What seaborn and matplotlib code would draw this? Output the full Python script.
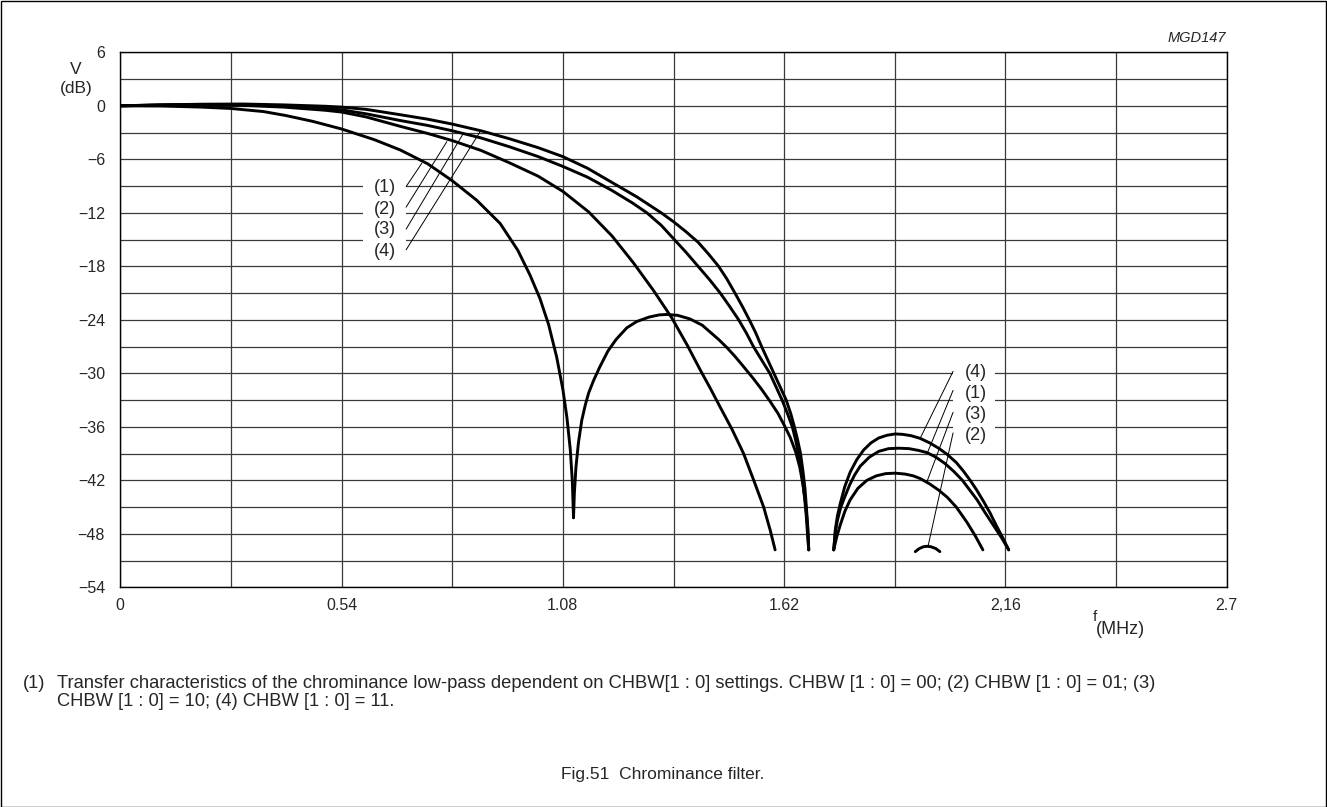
import matplotlib
matplotlib.use("Agg")
import matplotlib.pyplot as plt
from matplotlib.patches import Rectangle
import seaborn as sns

# ---------------- data (f in MHz, V in dB) ----------------
# curve (4): CHBW = 11
f4_pass = [0, 0.1, 0.2, 0.3, 0.4, 0.5, 0.54, 0.6, 0.683, 0.75, 0.81, 0.88, 0.95, 1.02,
           1.08, 1.14, 1.2, 1.26, 1.32, 1.35, 1.38, 1.41, 1.435, 1.46, 1.48, 1.5, 1.518,
           1.535, 1.55, 1.565, 1.58, 1.595, 1.61, 1.625, 1.636, 1.645, 1.653, 1.66,
           1.666, 1.671, 1.675, 1.678, 1.68]
v4_pass = [0, 0.1, 0.18, 0.2, 0.1, -0.05, -0.15, -0.4, -1.0, -1.5, -2.05, -2.8, -3.7, -4.7,
           -5.7, -7.0, -8.6, -10.2, -12.0, -13.0, -14.1, -15.3, -16.6, -18.0, -19.4, -21.0, -22.5,
           -24.0, -25.4, -27.0, -28.5, -30.0, -31.5, -33.0, -34.5, -36.0, -37.5, -39.0,
           -41.0, -43.0, -45.5, -47.5, -49.8]
f4_stop = [1.741, 1.745, 1.75, 1.757, 1.768, 1.781, 1.797, 1.814, 1.832, 1.851, 1.871,
           1.891, 1.91, 1.93, 1.952, 1.975, 1.997, 2.018, 2.04, 2.058, 2.074, 2.09, 2.107,
           2.123, 2.138, 2.153, 2.168]
v4_stop = [-49.8, -47.5, -46.0, -44.6, -42.7, -41.1, -39.7, -38.6, -37.8, -37.25, -36.95,
           -36.8, -36.85, -37.0, -37.3, -37.8, -38.4, -39.1, -40.0, -41.0, -42.0, -43.1, -44.4,
           -45.7, -47.1, -48.4, -49.8]

# curve (3): CHBW = 10
f3_pass = [0, 0.1, 0.2, 0.3, 0.4, 0.5, 0.54, 0.6, 0.683, 0.75, 0.81, 0.88, 0.95, 1.02,
           1.08, 1.14, 1.2, 1.25, 1.285, 1.32, 1.35, 1.38, 1.41, 1.438, 1.464, 1.487, 1.509,
           1.528, 1.545, 1.565, 1.585, 1.6, 1.615, 1.628, 1.64, 1.648, 1.655, 1.661, 1.665,
           1.67, 1.674, 1.677, 1.68]
v3_pass = [0, 0.1, 0.15, 0.12, 0.0, -0.3, -0.45, -0.9, -1.65, -2.2, -2.8, -3.6, -4.6, -5.7,
           -6.8, -8.0, -9.5, -10.9, -12.0, -13.4, -14.9, -16.4, -18.0, -19.5, -21.0, -22.5, -24.0,
           -25.5, -27.0, -28.5, -30.0, -31.5, -33.0, -34.5, -36.0, -37.5, -39.0, -40.5, -42.0,
           -44.0, -46.0, -48.0, -49.8]
f3_stop = [1.741, 1.748, 1.757, 1.768, 1.781, 1.8, 1.822, 1.845, 1.868, 1.891, 1.915,
           1.935, 1.952, 1.975, 1.997, 2.018, 2.04, 2.066, 2.086, 2.105]
v3_stop = [-49.8, -48.4, -47.0, -45.5, -44.2, -42.9, -42.0, -41.5, -41.25, -41.2, -41.3,
           -41.5, -41.8, -42.4, -43.1, -43.9, -45.0, -46.7, -48.2, -49.8]

# curve (2): CHBW = 01
f2_pass = [0, 0.1, 0.2, 0.3, 0.4, 0.5, 0.54, 0.6, 0.683, 0.75, 0.81, 0.88, 0.95, 1.02,
           1.08, 1.143, 1.2, 1.252, 1.301, 1.346, 1.383, 1.415, 1.44, 1.464, 1.493, 1.521,
           1.545, 1.57, 1.586, 1.598]
v2_pass = [0, 0.08, 0.1, 0.05, -0.15, -0.5, -0.7, -1.25, -2.3, -3.1, -3.9, -5.0, -6.4, -7.9,
           -9.6, -11.9, -14.6, -17.6, -20.7, -23.8, -26.8, -29.6, -31.7, -33.8, -36.3, -39.0,
           -41.9, -45.0, -47.6, -49.8]
f2_stop = [1.94, 1.95, 1.96, 1.969, 1.978, 1.99, 2.0]
v2_stop = [-50.0, -49.65, -49.45, -49.4, -49.45, -49.65, -50.0]

# curve (1): CHBW = 00
f1_pass = [0, 0.1, 0.2, 0.27, 0.35, 0.405, 0.47, 0.54, 0.62, 0.683, 0.75, 0.81, 0.87,
           0.927, 0.97, 1.0, 1.024, 1.045, 1.065, 1.08, 1.09, 1.098, 1.103, 1.106]
v1_pass = [0, -0.02, -0.15, -0.3, -0.65, -1.1, -1.75, -2.6, -3.8, -4.95, -6.5, -8.4, -10.6,
           -13.2, -16.2, -19.0, -21.6, -24.5, -28.2, -31.8, -35.0, -38.5, -42.0, -46.2]
f1_lobe = [1.106, 1.108, 1.112, 1.118, 1.126, 1.135, 1.143, 1.155, 1.17, 1.19, 1.21,
           1.236, 1.26, 1.29, 1.315, 1.334, 1.36, 1.39, 1.42, 1.44, 1.46, 1.48, 1.5, 1.52,
           1.545, 1.565, 1.585, 1.605, 1.62, 1.635, 1.648, 1.658, 1.666, 1.672, 1.677, 1.68]
v1_lobe = [-46.2, -43.5, -40.5, -37.8, -35.3, -33.5, -32.2, -30.8, -29.3, -27.5, -26.2,
           -24.9, -24.2, -23.7, -23.45, -23.4, -23.5, -23.9, -24.6, -25.4, -26.2, -27.1, -28.1,
           -29.2, -30.6, -31.8, -33.1, -34.5, -35.8, -37.2, -38.8, -40.5, -42.5, -44.5, -47.0,
           -49.8]
f1_stop = [1.741, 1.745, 1.75, 1.757, 1.765, 1.78, 1.792, 1.806, 1.828, 1.851, 1.875,
           1.9, 1.925, 1.948, 1.969, 1.99, 2.012, 2.034, 2.055, 2.073, 2.091, 2.11, 2.13,
           2.15, 2.168]
v1_stop = [-49.8, -47.8, -46.5, -45.2, -44.2, -42.5, -41.4, -40.4, -39.4, -38.75, -38.45,
           -38.4, -38.45, -38.65, -38.9, -39.4, -40.1, -41.0, -42.0, -43.1, -44.2, -45.6, -47.0,
           -48.4, -49.8]

x_ticks = [0, 0.54, 1.08, 1.62, 2.16, 2.7]
x_tick_labels = ["0", "0.54", "1.08", "1.62", "2,16", "2.7"]
y_ticks = [-54, -48, -42, -36, -30, -24, -18, -12, -6, 0, 6]
y_tick_labels = ["\u221254", "\u221248", "\u221242", "\u221236", "\u221230", "\u221224",
                 "\u221218", "\u221212", "\u22126", "0", "6"]

pass_labels = ["(1)", "(2)", "(3)", "(4)"]
stop_labels = ["(4)", "(1)", "(3)", "(2)"]

# ---------------- figure ----------------
sns.set_style("white")
plt.rcParams["font.family"] = ["Liberation Sans", "DejaVu Sans"]

W, H = 1327, 807
fig = plt.figure(figsize=(W / 100, H / 100), dpi=100)
ax = fig.add_axes([120.3 / W, 1 - 587.3 / H, (1226.7 - 120.3) / W, (587.3 - 52.3) / H])

ax.set_xlim(0, 2.7)
ax.set_ylim(-54, 6)
ax.set_xticks(x_ticks)
ax.set_xticklabels(x_tick_labels, fontsize=11.5)
ax.set_xticks([0.27, 0.81, 1.35, 1.89, 2.43], minor=True)
ax.set_yticks(y_ticks)
ax.set_yticklabels(y_tick_labels, fontsize=11.5)
ax.set_yticks([-51, -45, -39, -33, -27, -21, -15, -9, -3, 3], minor=True)
ax.tick_params(axis="both", which="both", length=0)
ax.tick_params(axis="y", pad=11)
ax.tick_params(axis="x", pad=8)
ax.grid(True, which="both", color="#3a3a3a", linewidth=0.9, zorder=0)
ax.set_axisbelow(True)
for s in ax.spines.values():
    s.set_color("black")
    s.set_linewidth(1.0)

# white patches behind the curve labels
ax.add_patch(Rectangle((0.593, -17.4), 0.105, 9.1, facecolor="white", edgecolor="none", zorder=1.5))
ax.add_patch(Rectangle((2.033, -37.5), 0.102, 8.8, facecolor="white", edgecolor="none", zorder=1.5))

segments = [(f4_pass, v4_pass), (f4_stop, v4_stop),
            (f3_pass, v3_pass), (f3_stop, v3_stop),
            (f2_pass, v2_pass), (f2_stop, v2_stop),
            (f1_pass, v1_pass), (f1_lobe, v1_lobe), (f1_stop, v1_stop)]
for fx, vy in segments:
    sns.lineplot(x=fx, y=vy, ax=ax, color="black", linewidth=2.1, sort=False,
                 estimator=None, zorder=3)
for ln in ax.get_lines():
    ln.set_solid_joinstyle("round")

# leader lines & labels (passband)
pass_start = [(0.6975, -9.06), (0.6975, -11.37), (0.6975, -13.83), (0.6975, -16.15)]
pass_end = [(0.7358, -6.44), (0.7969, -4.02), (0.8374, -3.08), (0.8782, -2.90)]
pass_text = [(0.646, -9.2), (0.646, -11.6), (0.646, -13.9), (0.646, -16.3)]
for lab, s, e, t in zip(pass_labels, pass_start, pass_end, pass_text):
    ax.plot([s[0], e[0]], [s[1], e[1]], color="black", linewidth=0.7, zorder=2.5)
    ax.text(t[0], t[1], lab, ha="center", va="center", fontsize=13, zorder=4)

stop_start = [(2.0322, -29.79), (2.0322, -31.92), (2.0322, -34.38), (2.0322, -36.69)]
stop_end = [(1.9524, -37.25), (1.9688, -39.01), (1.9688, -42.11), (1.9712, -49.39)]
stop_text = [(2.087, -29.9), (2.087, -32.3), (2.087, -34.6), (2.087, -37.0)]
for lab, s, e, t in zip(stop_labels, stop_start, stop_end, stop_text):
    ax.plot([s[0], e[0]], [s[1], e[1]], color="black", linewidth=0.7, zorder=2.5)
    ax.text(t[0], t[1], lab, ha="center", va="center", fontsize=13, zorder=4)

ax.set_xlabel("")
ax.set_ylabel("")

def ftext(x, y, s, **kw):
    fig.text(x / W, 1 - y / H, s, **kw)

ftext(76, 69, "V", ha="center", va="center", fontsize=12.5)
ftext(76, 88, "(dB)", ha="center", va="center", fontsize=12.5)
ftext(1097, 617, "f", ha="right", va="center", fontsize=11)
ftext(1096, 629, "(MHz)", ha="left", va="center", fontsize=13)
ftext(1226, 38, "MGD147", ha="right", va="center", fontsize=10.5, style="italic")

ftext(23, 683, "(1)", ha="left", va="center", fontsize=13.2)
ftext(57, 683, "Transfer characteristics of the chrominance low-pass dependent on CHBW[1 : 0] "
      "settings. CHBW [1 : 0] = 00; (2) CHBW [1 : 0] = 01; (3)", ha="left", va="center", fontsize=13.2)
ftext(57, 701, "CHBW [1 : 0] = 10; (4) CHBW [1 : 0] = 11.", ha="left", va="center", fontsize=13.2)
ftext(663, 775, "Fig.51  Chrominance filter.", ha="center", va="center", fontsize=12.5)

fig.patches.append(Rectangle((0.5 / W, 0.5 / H), (W - 1.5) / W, (H - 1.5) / H,
                             transform=fig.transFigure, fill=False, edgecolor="black",
                             linewidth=1.0))

fig.savefig("out.png", dpi=100)
